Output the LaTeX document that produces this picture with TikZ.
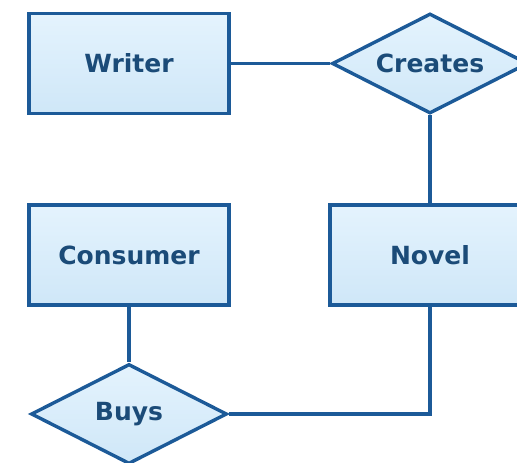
\documentclass[tikz,border=0pt]{standalone}
\usepackage{fontspec}
\setmainfont{DejaVu Sans}
\usetikzlibrary{shapes.geometric}
\definecolor{edgeblue}{HTML}{1C5A98}
\definecolor{textblue}{HTML}{1B4B78}
\definecolor{filltop}{HTML}{E4F3FD}
\definecolor{fillbot}{HTML}{CFE7F8}
\tikzset{
  ent/.style={rectangle, draw=edgeblue, line width=3.4pt, top color=filltop, bottom color=fillbot,
    minimum width=200pt, minimum height=100pt, inner sep=0pt,
    font=\fontsize{25}{29}\selectfont\bfseries, text=textblue},
  rel/.style={diamond, draw=edgeblue, line width=3.4pt, top color=filltop, bottom color=fillbot,
    minimum width=196pt, minimum height=100pt, inner sep=0pt, aspect=2,
    font=\fontsize{25}{29}\selectfont\bfseries, text=textblue},
  link/.style={draw=edgeblue, line width=3.2pt}
}
\begin{document}
\begin{tikzpicture}[x=1pt, y=-1pt]
  \useasboundingbox (0,0) rectangle (517,463);
  \clip (0,0) rectangle (517,463);
  \fill[white] (0,0) rectangle (517,463);
  % entities
  \node[ent] (writer) at (129,63.5) {Writer};
  \node[ent] (consumer) at (129,255) {Consumer};
  \node[ent] (novel) at (430,255) {Novel};
  % relationships
  \node[rel] (creates) at (430,63.5) {Creates};
  \node[rel] (buys) at (129,414) {Buys};
  % connections
  \draw[link] (writer.east) -- (creates.west);
  \draw[link] (creates.south) -- (novel.north);
  \draw[link] (consumer.south) -- (buys.north);
  \draw[link] (buys.east) -| (novel.south);
\end{tikzpicture}
\end{document}
